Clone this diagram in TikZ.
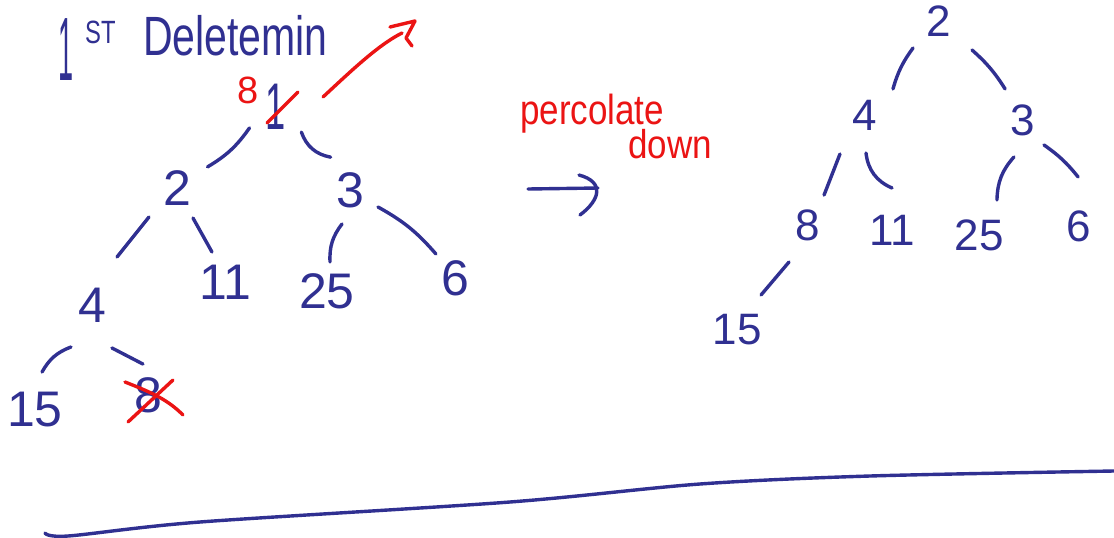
\documentclass[tikz,border=0pt]{standalone}
\usepackage{fontspec}
\setmainfont{Liberation Sans}
\usetikzlibrary{calc}
\definecolor{blueink}{RGB}{48,48,145}
\definecolor{redink}{RGB}{235,20,20}
\newcommand\treeedge[7][]{\draw[edge] ($(#2)!#4!#5:(#3)$) to[#1] ($(#2)!#6!#7:(#3)$);}
\tikzset{
  ink/.style={draw=blueink, line width=3.4pt, line cap=round, line join=round},
  edge/.style={ink},
  redline/.style={draw=redink, line width=3.4pt, line cap=round, line join=round},
  ldig/.style={text=blueink, inner sep=0pt, font=\fontsize{50}{56}\selectfont},
  rdig/.style={text=blueink, inner sep=0pt, font=\fontsize{44}{50}\selectfont},
  bluetxt/.style={text=blueink, inner sep=0pt},
  redtxt/.style={text=redink, inner sep=0pt},
}
\begin{document}
\begin{tikzpicture}[x=1pt,y=-1pt]
\fill[white] (0,0) rectangle (1114,538);
\useasboundingbox (0,0) rectangle (1114,538);

% title
\node[bluetxt, anchor=base] (t1) at (66,80) {\scalebox{0.45}[1.5]{\fontsize{60}{60}\selectfont 1}};
\node[bluetxt, anchor=base west] (tST) at (85,43) {\scalebox{0.85}[1.15]{\fontsize{28}{28}\selectfont ST}};
\node[bluetxt, anchor=base west] (tD) at (143,55) {\scalebox{1}[1.35]{\fontsize{41}{41}\selectfont Deletemin}};

% left tree
\node[ldig] (r) at (276,107) {\scalebox{0.55}[1]{\fontsize{66}{70}\selectfont 1}};
\node[redtxt, font=\fontsize{38}{44}\selectfont] (r8) at (248,90) {8};
\node[ldig] (L2) at (177,188) {2};
\node[ldig] (L3) at (350,190) {3};
\node[ldig] (L4) at (92,305) {4};
\node[ldig] (L11) at (225,282) {11};
\node[ldig] (L25) at (327,291) {25};
\node[ldig] (L6) at (455,278) {6};
\node[ldig] (L15) at (35,410) {15};
\node[ldig] (L8) at (148,395) {8};

\treeedge[bend left=12]{r}{L2}{0.264}{-1.0}{0.711}{1.9}
\treeedge[bend right=30]{r}{L3}{0.321}{3.6}{0.667}{5.7}
\treeedge{L2}{L4}{0.279}{-8.0}{0.632}{-5.0}
\treeedge{L2}{L11}{0.322}{1.0}{0.691}{1.6}
\treeedge[bend right=20]{L3}{L25}{0.337}{-0.4}{0.721}{-2.7}
\treeedge[bend left=10]{L3}{L6}{0.239}{8.7}{0.782}{3.3}
\treeedge[bend right=20]{L4}{L15}{0.393}{1.9}{0.70}{-8.2}
\treeedge{L4}{L8}{0.447}{-7.0}{0.736}{8.9}

% cross-outs
\draw[redline] ($(r)+(-9,16)$) -- ($(r)+(22,-15)$);
\draw[redline] ($(L8)+(-23,-13)$) .. controls ($(L8)+(5,-2)$) and ($(L8)+(20,5)$) .. ($(L8)+(35,20)$);
\draw[redline] ($(L8)+(25,-15)$) -- ($(L8)+(-20,27)$);

% red arrow out of the root
\coordinate (rtip) at (402,33);
\draw[redline] ($(r)+(47,-10)$) .. controls (350,72) and (378,45) .. (rtip);
\draw[redline] ($(rtip)+(-12,-6)$) -- ($(rtip)+(13,-12)$) -- ($(rtip)+(4,5)$) -- ($(rtip)+(10,13)$);

% percolate down
\node[redtxt, anchor=base west] (perc) at (520,124) {\raisebox{0pt}[\height][0pt]{\scalebox{1}[1.2]{\fontsize{35}{35}\selectfont percolate}}};
\node[redtxt, anchor=base west] (down) at (628,158) {\scalebox{1}[1.15]{\fontsize{35}{35}\selectfont down}};

% blue arrow
\coordinate (aS) at (528,189);
\coordinate (aE) at (598,188);
\draw[ink] (aS) -- (aE);
\draw[ink] ($(aE)+(-19,-13)$) .. controls ($(aE)+(7,-6)$) and ($(aE)+(2,12)$) .. ($(aE)+(-18,27)$);

% right tree
\node[rdig] (R2) at (939,21) {2};
\node[rdig] (R4) at (865,115) {4};
\node[rdig] (R3) at (1023,120) {3};
\node[rdig] (R8) at (808,225) {8};
\node[rdig] (R11) at (892,230) {11};
\node[rdig] (R25) at (979,235) {25};
\node[rdig] (R6) at (1079,226) {6};
\node[rdig] (R15) at (737,330) {15};

\treeedge[bend right=10]{R2}{R4}{0.313}{-5.7}{0.686}{4.1}
\treeedge[bend left=8]{R2}{R3}{0.338}{8.4}{0.730}{3.9}
\treeedge{R4}{R8}{0.374}{-5.3}{0.726}{0.3}
\treeedge[bend right=30]{R4}{R11}{0.322}{-11.7}{0.659}{7.1}
\treeedge[bend right=20]{R3}{R25}{0.309}{7.2}{0.683}{2.9}
\treeedge[bend left=8]{R3}{R6}{0.272}{12.2}{0.661}{16.2}
\treeedge{R8}{R15}{0.328}{6.9}{0.665}{0.2}

% bottom line
\draw[ink] plot[smooth] coordinates {(45,533) (68,536) (200,522) (510,502) (700,484) (870,476) (1114,471)};
\end{tikzpicture}
\end{document}
